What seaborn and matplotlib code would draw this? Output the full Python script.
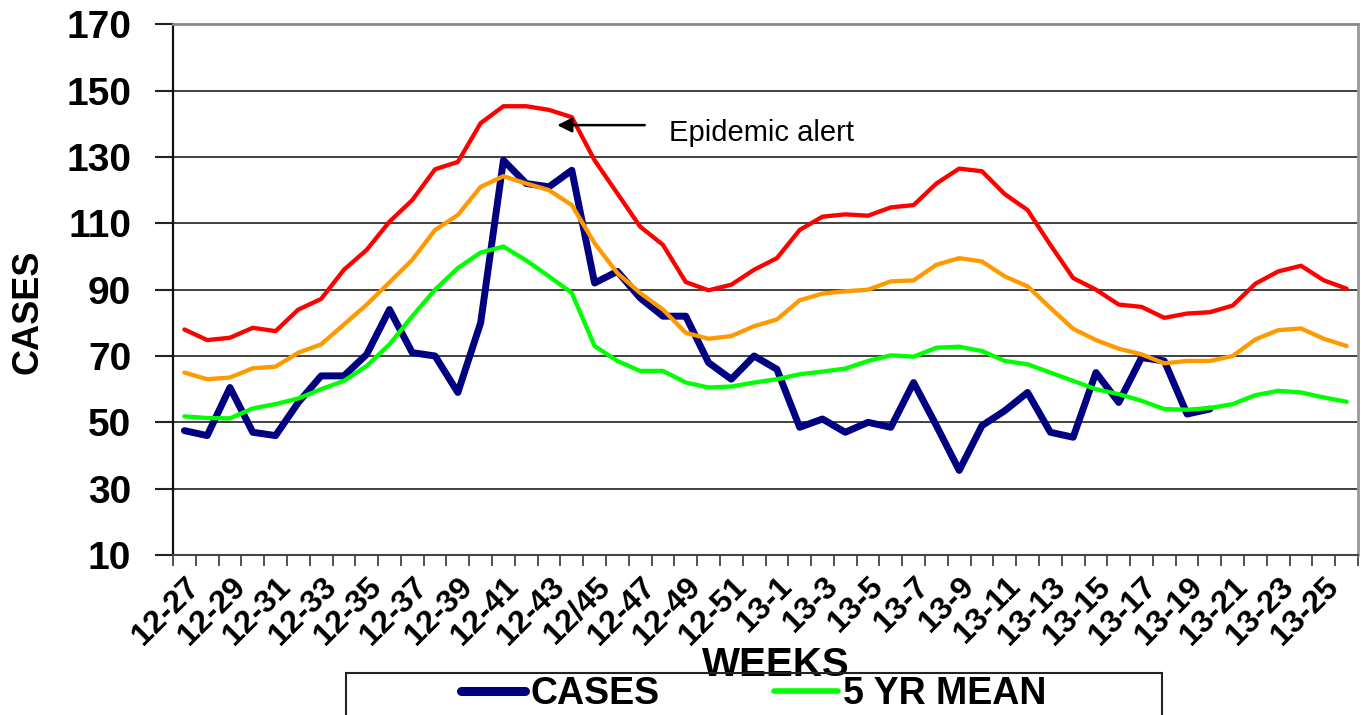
import numpy as np
import pandas as pd
import matplotlib
matplotlib.use("Agg")
import matplotlib.pyplot as plt
from matplotlib.patches import Rectangle
from matplotlib.lines import Line2D
import seaborn as sns

# ---------------- data ----------------
weeks = [f"12-{w}" for w in range(27, 53)] + [f"13-{w}" for w in range(1, 27)]
tick_labels = ["12-27", "12-29", "12-31", "12-33", "12-35", "12-37", "12-39", "12-41",
               "12-43", "12/45", "12-47", "12-49", "12-51", "13-1", "13-3", "13-5",
               "13-7", "13-9", "13-11", "13-13", "13-15", "13-17", "13-19", "13-21",
               "13-23", "13-25"]

cases = [47.5, 46, 60.5, 47, 46, 56, 64, 64, 70.5, 84, 71, 70, 59, 80, 129, 122,
         121, 126, 92, 95.5, 87.5, 82, 82, 68, 63, 70, 66, 48.5, 51, 47, 50, 48.5,
         62, 49, 35.5, 49, 53.5, 59, 47, 45.5, 65, 56, 69.5, 68.5, 52.5, 54]

mean_5yr = [51.8, 51.3, 51.2, 54.2, 55.5, 57.2, 60, 62.5, 67, 73.5, 82, 90, 96.5,
            101.2, 103, 98.8, 94, 89, 73, 68.5, 65.5, 65.5, 62, 60.5, 60.8, 62, 63,
            64.5, 65.3, 66.2, 68.5, 70.2, 69.8, 72.5, 72.8, 71.5, 68.5, 67.5, 65,
            62.5, 60, 58.5, 56.5, 54, 53.8, 54.3, 55.5, 58.2, 59.5, 59, 57.5, 56.2]

orange_line = [65, 63, 63.5, 66.3, 66.8, 71, 73.5, 79.5, 85.5, 92.2, 99, 108, 112.5,
               121, 124.2, 122, 120, 115.5, 104, 95, 89, 84, 77, 75.2, 76, 79, 81,
               86.8, 88.8, 89.5, 90, 92.5, 92.8, 97.5, 99.5, 98.5, 94, 91, 84.5,
               78.2, 74.8, 72.2, 70.5, 67.8, 68.5, 68.5, 70, 75, 77.8, 78.3, 75.2, 73]

epidemic_alert = [78, 74.8, 75.5, 78.5, 77.5, 84, 87.2, 96, 102, 110.5, 117, 126.3,
                  128.5, 140.2, 145.3, 145.3, 144.2, 142, 129, 119, 109, 103.5, 92.3,
                  89.8, 91.5, 96, 99.5, 108, 112, 112.7, 112.3, 114.8, 115.5, 122,
                  126.5, 125.7, 118.8, 114, 103.5, 93.5, 90, 85.5, 84.8, 81.5, 82.8,
                  83.2, 85.2, 91.8, 95.5, 97.2, 92.8, 90.3]

y_ticks = [10, 30, 50, 70, 90, 110, 130, 150, 170]

# ---------------- style ----------------
sns.set_style("white")
plt.rcParams["font.family"] = ["Liberation Sans", "DejaVu Sans"]
plt.rcParams["text.color"] = "black"
plt.rcParams["axes.labelcolor"] = "black"
plt.rcParams["xtick.color"] = "black"
plt.rcParams["ytick.color"] = "black"

NAVY = "#000080"
GREEN = "#00FF00"
ORANGE = "#FF9900"
RED = "#FF0000"

fig = plt.figure(figsize=(13.61, 7.15), dpi=100)
ax = fig.add_axes([173 / 1361, 1 - 555 / 715, 1185 / 1361, 530.7 / 715])

pos = np.arange(len(weeks))
df_cases = pd.DataFrame({"x": pos[:len(cases)], "y": cases})
df_mean = pd.DataFrame({"x": pos, "y": mean_5yr})
df_or = pd.DataFrame({"x": pos, "y": orange_line})
df_red = pd.DataFrame({"x": pos, "y": epidemic_alert})

sns.lineplot(data=df_cases, x="x", y="y", color=NAVY, linewidth=5.0, ax=ax)
sns.lineplot(data=df_mean, x="x", y="y", color=GREEN, linewidth=3.1, ax=ax)
sns.lineplot(data=df_or, x="x", y="y", color=ORANGE, linewidth=3.1, ax=ax)
sns.lineplot(data=df_red, x="x", y="y", color=RED, linewidth=3.1, ax=ax)

ax.set_xlim(-0.5, len(weeks) - 0.5)
ax.set_ylim(10, 170)

# y axis
ax.set_yticks(y_ticks)
ax.set_yticklabels([str(v) for v in y_ticks], fontsize=28, fontweight="bold", color="black")
ax.tick_params(axis="y", left=True, length=13, width=1.5, color="#222222", pad=17)
ax.yaxis.grid(True, color="#333333", linewidth=1.3)
ax.xaxis.grid(False)
ax.set_axisbelow(True)

# x axis
ax.set_xticks(pos[::2])
ax.set_xticklabels(tick_labels, fontsize=23, fontweight="bold", color="black")
ax.set_xticks(np.arange(-0.5, len(weeks), 1), minor=True)
ax.tick_params(axis="x", which="major", length=0, pad=12)
ax.tick_params(axis="x", which="minor", bottom=True, length=8, width=1.3, color="#444444")
plt.setp(ax.get_xticklabels(), rotation=45, ha="right", va="top", rotation_mode="anchor")

# spines
ax.spines["left"].set_color("#111111")
ax.spines["left"].set_linewidth(1.6)
ax.spines["bottom"].set_color("#444444")
ax.spines["bottom"].set_linewidth(1.5)
ax.spines["top"].set_color("#888888")
ax.spines["top"].set_linewidth(2)
ax.spines["right"].set_color("#999999")
ax.spines["right"].set_linewidth(2)

ax.set_ylabel("CASES", fontsize=26, fontweight="bold", color="black")
ax.yaxis.set_label_coords(-0.108, 0.458)
ax.set_xlabel("WEEKS", fontsize=29, fontweight="bold", color="black")
ax.xaxis.set_label_coords(0.509, -0.172)

# annotation
ax.annotate("", xy=(16.36, 139.6), xytext=(20.2, 139.6),
            arrowprops=dict(arrowstyle="-|>", color="black", lw=1.8,
                            mutation_scale=22, shrinkA=0, shrinkB=0))
ax.text(21.27, 137.3, "Epidemic alert", fontsize=21, ha="left", va="center", color="black")

# legend
handles = [Line2D([], [], color=NAVY, linewidth=6.5, solid_capstyle="round"),
           Line2D([], [], color=GREEN, linewidth=4.0)]
leg = fig.legend(handles, ["CASES", "5 YR MEAN"], ncol=2, frameon=False,
                 loc="upper left", bbox_to_anchor=(461 / 1361, 1 - 676 / 715),
                 prop={"size": 27, "weight": "bold"}, handlelength=1.7,
                 handletextpad=0.15, columnspacing=3.05, borderpad=0, borderaxespad=0)
for t in leg.get_texts():
    t.set_color("black")
fig.patches.append(Rectangle((346 / 1361, -0.05), (1162 - 346) / 1361, 0.05 + (715 - 673) / 715,
                             transform=fig.transFigure, fill=False, edgecolor="#222222",
                             linewidth=1.5))

fig.savefig("out.png", dpi=100)
